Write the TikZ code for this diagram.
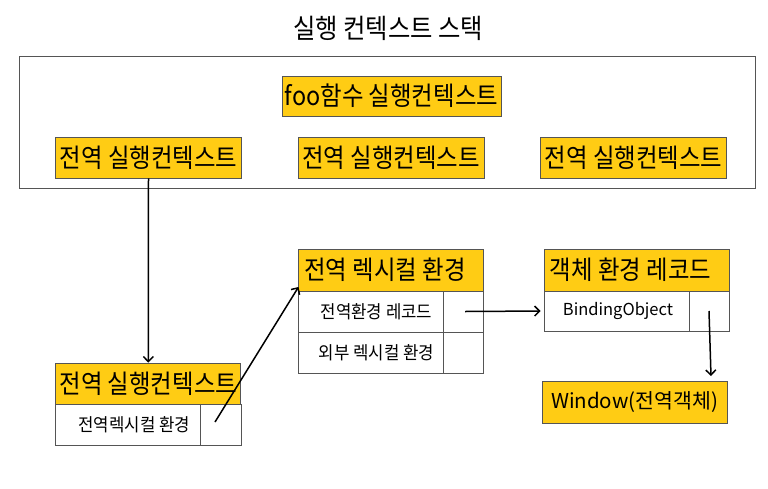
\documentclass[tikz,border=0pt]{standalone}
\usepackage{fontspec}
\setmainfont{Noto Sans CJK KR}
\newfontfamily\krnarrow[FakeStretch=0.9]{Noto Sans CJK KR}
\newfontfamily\krcell[FakeStretch=0.93]{Noto Sans CJK KR}
\usetikzlibrary{arrows.meta}
\definecolor{gold}{RGB}{255,204,20}
\definecolor{edge}{RGB}{85,85,85}
\tikzset{
  box/.style={draw=edge, line width=0.8pt, inner sep=0pt, anchor=center},
  hdr/.style={box, fill=gold, minimum width=185pt, minimum height=41pt, font=\krnarrow\fontsize{26}{26}\selectfont},
  cell/.style={box, fill=white, minimum height=41pt, font=\krcell\fontsize{18}{18}\selectfont},
  arr/.style={line width=1.5pt, -{Straight Barb[length=5pt,width=10pt]}},
}
\begin{document}
\begin{tikzpicture}[x=1pt,y=-1pt]
\useasboundingbox (0,0) rectangle (768,488);
\node[font=\krnarrow\fontsize{27}{27}\selectfont] (title) at (388,28) {실행 컨텍스트 스택};
\node[box, minimum width=736pt, minimum height=132pt] (stack) at (387,122) {};
\node[hdr, minimum width=219pt, minimum height=40pt] (foo) at (391.5,96) {foo함수 실행컨텍스트};
\node[hdr, minimum width=186pt] (g1) at (148.5,157.5) {전역 실행컨텍스트};
\node[hdr, minimum width=186pt] (g2) at (391,157.5) {전역 실행컨텍스트};
\node[hdr, minimum width=186pt] (g3) at (633.5,157.5) {전역 실행컨텍스트};
% global execution context
\node[hdr] (ech) at (148.35,383.5) {전역 실행컨텍스트};
\node[cell, minimum width=145pt] (ecr) at (128.2,424.5) {\hspace*{12pt}전역렉시컬 환경};
\node[cell, minimum width=40.3pt] (ecp) at (220.85,424.5) {};
% global lexical environment
\node[hdr, minimum height=42pt] (leh) at (390.5,270) {전역 렉시컬 환경\hspace*{11pt}};
\node[cell, minimum width=145pt] (le1) at (370.5,311.5) {\hspace*{12pt}전역환경 레코드};
\node[cell, minimum width=40pt] (lep1) at (463,311.5) {};
\node[cell, minimum width=145pt] (le2) at (370.5,352.5) {\hspace*{12pt}외부 렉시컬 환경};
\node[cell, minimum width=40pt] (lep2) at (463,352.5) {};
% object environment record
\node[hdr, minimum height=42pt] (oh) at (636.5,270) {객체 환경 레코드\hspace*{12pt}};
\node[cell, minimum width=145pt, minimum height=40pt, font=\fontsize{16.5}{17}\selectfont] (or) at (616.5,311) {\hspace*{3pt}BindingObject};
\node[cell, minimum width=40pt, minimum height=40pt] (op) at (709,311) {};
% window
\node[hdr, minimum height=42pt, font=\fontsize{20.5}{21}\selectfont] (win) at (634.5,402) {Window(전역객체)};
% connectors
\coordinate (s1) at (215,422);
\coordinate (t1) at (298.5,287);
\coordinate (t3) at (711,376);
\draw[arr] (g1.south) -- (ech.north);
\draw[arr] (s1) -- (t1);
\draw[arr, shorten >=3pt] ([xshift=2pt]lep1.center) -- (or.west);
\draw[arr] (op.center) -- (t3);
\end{tikzpicture}
\end{document}
